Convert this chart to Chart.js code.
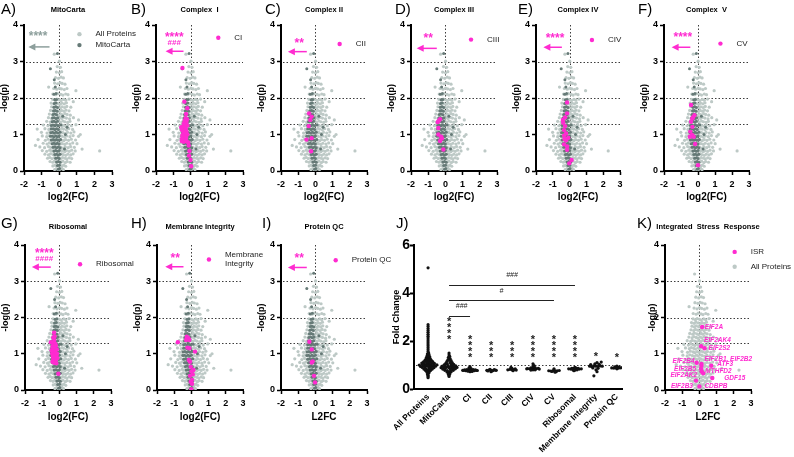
<!DOCTYPE html>
<html>
<head>
<meta charset="utf-8">
<title>Proteome volcano panels</title>
<script src="https://cdn.jsdelivr.net/npm/chart.js@4.4.1/dist/chart.umd.min.js"></script>
<style>
  body { margin: 0; width: 794px; height: 457px; position: relative; overflow: hidden; background: #fff; }
  canvas { position: absolute; }
</style>
</head>
<body>
<script>
const FONT = '"Liberation Sans", Arial, sans-serif'
const PINK = '#ff2bd0'
const LIGHT = '#bdc9c6'
const DARK = '#667a77'
const STAR_GRAY = '#8d9f9c'

// ---- volcano data, [log2 fold change, -log10 p] ----
const allProteins = [
  [-0.26,0.04],[-0.14,0.06],[-0.05,0.03],[0.06,0.05],[0.15,0.07],[0.24,0.04],
  [-0.36,0.14],[-0.24,0.16],[-0.16,0.13],[-0.04,0.15],[0.05,0.17],[0.16,0.14],[0.26,0.16],[0.37,0.13],
  [-0.52,0.26],[-0.37,0.24],[-0.27,0.27],[-0.13,0.23],[-0.03,0.26],[0.11,0.25],[0.21,0.27],[0.35,0.23],[0.45,0.26],[0.62,0.24],
  [-0.66,0.35],[-0.53,0.37],[-0.41,0.34],[-0.27,0.36],[-0.17,0.33],[-0.03,0.36],[0.09,0.34],[0.19,0.37],[0.33,0.35],[0.43,0.33],[0.57,0.36],[0.71,0.34],
  [-0.81,0.46],[-0.61,0.44],[-0.49,0.47],[-0.35,0.45],[-0.25,0.43],[-0.11,0.46],[0.01,0.44],[0.13,0.47],[0.23,0.45],[0.37,0.43],[0.49,0.46],[0.65,0.44],[0.79,0.47],
  [-0.96,0.56],[-0.71,0.54],[-0.54,0.57],[-0.43,0.55],[-0.29,0.53],[-0.19,0.56],[-0.05,0.54],[0.07,0.57],[0.17,0.55],[0.31,0.53],[0.41,0.56],[0.57,0.54],[0.71,0.57],[0.91,0.55],[2.3,0.55],
  [-1.1,0.66],[-0.83,0.64],[-0.61,0.67],[-0.49,0.65],[-0.35,0.63],[-0.25,0.66],[-0.11,0.64],[0.01,0.67],[0.11,0.65],[0.25,0.63],[0.35,0.66],[0.51,0.64],[0.65,0.67],[0.86,0.65],
  [-0.91,0.76],[-0.69,0.74],[-0.56,0.77],[-0.41,0.75],[-0.31,0.73],[-0.17,0.76],[-0.07,0.74],[0.07,0.77],[0.17,0.75],[0.31,0.73],[0.43,0.76],[0.61,0.74],[0.77,0.77],[1.01,0.75],
  [-1.2,0.86],[-0.79,0.84],[-0.63,0.87],[-0.47,0.85],[-0.37,0.83],[-0.23,0.86],[-0.13,0.84],[0.01,0.87],[0.11,0.85],[0.25,0.83],[0.37,0.86],[0.53,0.84],[0.69,0.87],[0.93,0.85],
  [-0.96,0.96],[-0.71,0.94],[-0.56,0.97],[-0.41,0.95],[-0.31,0.93],[-0.17,0.96],[-0.07,0.94],[0.07,0.97],[0.17,0.95],[0.31,0.93],[0.43,0.96],[0.61,0.94],[0.79,0.97],[1.1,0.95],
  [-1.01,1.06],[-0.69,1.04],[-0.53,1.07],[-0.37,1.05],[-0.27,1.03],[-0.13,1.06],[-0.03,1.04],[0.11,1.07],[0.21,1.05],[0.35,1.03],[0.47,1.06],[0.66,1.04],[0.84,1.07],
  [-0.81,1.16],[-0.59,1.14],[-0.47,1.17],[-0.33,1.15],[-0.23,1.13],[-0.09,1.16],[0.01,1.14],[0.15,1.17],[0.25,1.15],[0.41,1.13],[0.54,1.16],[0.76,1.14],
  [-0.9,1.26],[-0.64,1.24],[-0.51,1.27],[-0.37,1.25],[-0.27,1.23],[-0.13,1.26],[-0.03,1.24],[0.11,1.27],[0.21,1.25],[0.36,1.23],[0.49,1.26],[0.69,1.24],[0.95,1.27],
  [-0.71,1.36],[-0.51,1.34],[-0.41,1.37],[-0.27,1.35],[-0.17,1.33],[-0.03,1.36],[0.07,1.34],[0.21,1.37],[0.32,1.35],[0.48,1.33],[0.61,1.36],
  [-0.61,1.46],[-0.43,1.44],[-0.33,1.47],[-0.19,1.45],[-0.09,1.43],[0.05,1.46],[0.15,1.44],[0.29,1.47],[0.41,1.45],[0.59,1.43],[0.81,1.46],
  [-0.56,1.56],[-0.39,1.54],[-0.29,1.57],[-0.15,1.55],[-0.05,1.53],[0.09,1.56],[0.19,1.54],[0.33,1.57],[0.45,1.55],[0.63,1.53],
  [-0.49,1.66],[-0.33,1.64],[-0.23,1.67],[-0.09,1.65],[0.03,1.63],[0.13,1.66],[0.27,1.64],[0.39,1.67],[0.56,1.65],
  [-0.43,1.76],[-0.29,1.74],[-0.19,1.77],[-0.05,1.75],[0.07,1.73],[0.17,1.76],[0.31,1.74],[0.43,1.77],[0.66,1.75],
  [-0.46,1.86],[-0.31,1.84],[-0.21,1.87],[-0.07,1.85],[0.05,1.83],[0.15,1.86],[0.29,1.84],[0.41,1.87],
  [-0.37,1.96],[-0.23,1.94],[-0.13,1.97],[0.01,1.95],[0.11,1.93],[0.25,1.96],[0.37,1.94],[0.56,1.97],
  [-0.36,2.11],[-0.19,2.09],[-0.07,2.12],[0.09,2.1],[0.21,2.08],[0.37,2.11],[0.5,2.09],
  [-0.31,2.26],[-0.14,2.24],[0.01,2.27],[0.13,2.25],[0.29,2.23],[0.44,2.26],
  [-0.26,2.41],[-0.09,2.39],[0.05,2.42],[0.17,2.4],[0.33,2.38],
  [-0.21,2.56],[-0.04,2.54],[0.11,2.57],[0.24,2.55],
  [-0.16,2.71],[0.01,2.69],[0.14,2.72],
  [-0.11,2.86],[0.07,2.84],[0.01,3.01],
  [-0.28,3.2],[0.95,2.2],[1.1,1.4],[-1.35,0.7],[1.3,0.6],[0.8,1.9],[-0.6,2.3],[1.2,1.0],[-1.25,1.15]
]
const mitoCarta = [
  [-0.05,0.05],[0.02,0.07],[-0.1,0.15],[0.01,0.16],[-0.15,0.25],[-0.05,0.26],[0.05,0.24],
  [-0.2,0.35],[-0.1,0.36],[0,0.34],[-0.25,0.45],[-0.15,0.46],[-0.05,0.44],[0.05,0.46],
  [-0.3,0.55],[-0.2,0.56],[-0.1,0.54],[0,0.56],[-0.35,0.65],[-0.25,0.66],[-0.15,0.64],[-0.05,0.66],[0.05,0.64],
  [-0.4,0.75],[-0.3,0.76],[-0.2,0.74],[-0.1,0.76],[0,0.74],
  [-0.45,0.85],[-0.35,0.86],[-0.25,0.84],[-0.15,0.86],[-0.05,0.84],[0.08,0.86],
  [-0.5,0.95],[-0.4,0.96],[-0.3,0.94],[-0.2,0.96],[-0.1,0.94],[0,0.96],
  [-0.48,1.05],[-0.38,1.06],[-0.28,1.04],[-0.18,1.06],[-0.08,1.04],[0.05,1.06],
  [-0.45,1.15],[-0.35,1.16],[-0.25,1.14],[-0.15,1.16],[-0.05,1.14],
  [-0.45,1.25],[-0.35,1.26],[-0.25,1.24],[-0.15,1.26],[-0.05,1.24],[0.1,1.26],
  [-0.4,1.35],[-0.3,1.36],[-0.2,1.34],[-0.1,1.36],[-0.38,1.45],[-0.28,1.46],[-0.18,1.44],[-0.08,1.46],
  [-0.35,1.55],[-0.25,1.56],[-0.15,1.54],[-0.32,1.65],[-0.22,1.66],[-0.12,1.64],
  [-0.3,1.75],[-0.2,1.76],[-0.1,1.74],[-0.28,1.85],[-0.18,1.86],[-0.25,1.95],[-0.15,1.96],
  [-0.3,2.1],[-0.18,2.12],[-0.22,2.3],[-0.28,2.5],[-0.5,2.8],
  [0.35,1.0],[0.45,1.2],[0.3,0.6],[0.2,1.5],[-0.1,3.22]
]
const complexI = [
  [-0.48,2.82],[-0.37,1.9],[-0.2,1.72],[-0.27,1.56],[-0.3,1.45],[-0.22,1.42],[-0.35,1.38],[-0.25,1.35],[-0.4,1.3],[-0.3,1.28],
  [-0.2,1.25],[-0.45,1.22],[-0.35,1.2],[-0.28,1.15],[-0.5,1.12],[-0.38,1.1],[-0.25,1.08],[-0.42,1.05],[-0.32,1.02],[-0.2,1],
  [-0.48,0.98],[-0.36,0.95],[-0.27,0.92],[-0.45,0.88],[-0.33,0.85],[-0.52,0.82],[-0.4,0.8],[-0.25,0.82],[-0.15,0.78],[-0.12,0.7],
  [-0.08,0.55],[-0.1,0.42],[-0.02,0.3],[0.02,0.13],[-0.55,1.2],[-0.5,0.9]
]
const complexII = [[-0.37,1.58],[-0.22,1.49],[-0.3,1.4],[-0.39,1.23],[-0.52,0.86],[-0.22,0.9],[-0.25,0.54]]
const complexIII = [[-0.31,1.42],[-0.45,1.34],[-0.38,1.38],[-0.41,1.18],[-0.41,1],[-0.25,0.94],[-0.2,0.89],[-0.31,0.82],[-0.12,0.59]]
const complexIV = [
  [-0.15,1.88],[-0.15,1.58],[-0.27,1.47],[-0.38,1.32],[-0.27,1.23],[-0.33,1.12],[-0.21,1.03],[-0.33,0.97],[-0.08,0.91],
  [-0.21,0.84],[-0.33,0.73],[-0.15,0.67],[-0.15,0.58],[0.12,0.3],[-0.02,0.21],[-0.4,1.4],[-0.3,0.88]
]
const complexV = [[-0.41,1.81],[-0.21,1.53],[-0.3,1.47],[-0.33,1.44],[-0.41,1.35],[-0.33,1.21],[-0.45,1.08],[-0.35,0.99],[-0.48,0.94],[-0.25,0.94],[-0.17,0.74],[0,0.16]]
const ribosomal = [
  [-0.31,1.58],[-0.5,1.32],[-0.35,1.45],[-0.3,1.38],[-0.38,1.3],[-0.25,1.28],[-0.2,1.22],[-0.4,1.2],[-0.3,1.15],[-0.15,1.12],
  [-0.35,1.08],[-0.25,1.05],[-0.42,1],[-0.3,0.98],[-0.18,0.95],[-0.38,0.92],[-0.25,0.9],[-0.12,0.88],[-0.35,0.85],[-0.22,0.82],
  [-0.4,0.78],[-0.3,0.75],[-0.18,0.74],[-0.28,1.48],[-0.06,0.45],[-0.14,1],[-0.45,1.1]
]
const membraneIntegrity = [
  [-0.79,1.32],[-0.27,1.47],[-0.17,1.43],[-0.31,1.38],[-0.12,1.38],[-0.23,1.17],[-0.12,1.15],[0.21,1.06],[-0.15,0.83],[-0.08,0.78],
  [-0.04,0.64],[0.12,0.55],[0,0.51],[0.08,0.43],[-0.08,0.39],[0.04,0.28],[-0.04,0.23],[0.04,0.17],[0,0.02]
]
const proteinQC = [[-0.35,1.33],[-0.21,1.12],[-0.16,0.79],[-0.21,0.76],[-0.08,0.39],[-0.02,0.21]]
const isr = [
  [0.16,1.74],[0.1,1.21],[0.3,1.15],[-0.16,0.75],[0.12,0.72],[0.12,0.67],[0.69,0.67],
  [0.1,0.58],[0.14,0.51],[0.22,0.46],[0.75,0.33],[-0.2,0.26],[0,0.1]
]
const isrGenes = ['EIF2A','EIF2AK4','EIF2S2','EIF2B4','EIF2B1','EIF2B2','ATF3','EIF2B5','MTHFD2','EIF2AK2','GDF15','EIF2B3','CDBPB']
const volcanoTicksX = [-2, -1, 0, 1, 2, 3]
const volcanoTicksY = [0, 1, 2, 3, 4]
const cutoffs = [1.3, 2, 3]

// ---- fold change panel, [jitter, fold change] per category ----
const foldCategories = ['All Proteins','MitoCarta','CI','CII','CIII','CIV','CV','Ribosomal','Membrane Integrity','Protein QC']
const foldAll = [
  [0,5.05],[0,2.68],[0,2.6],[0,2.52],[0,2.44],[0,2.36],[0,2.28],[0,2.2],[0,2.12],[0,2.04],[0,1.96],[0,1.88],[0,1.8],[0,1.72],[0,1.64],[0,1.56],
  [0.03,1.5],[-0.03,1.46],[0.05,1.42],[-0.05,1.38],[0.08,1.34],[-0.08,1.31],[0,1.35],
  [0.1,1.27],[-0.1,1.25],[0,1.26],[0.15,1.2],[-0.15,1.19],[0.05,1.2],[-0.05,1.21],[0.22,1.14],[-0.22,1.13],[0.1,1.14],[-0.1,1.15],[0,1.12],
  [0.3,1.07],[-0.3,1.08],[0.18,1.08],[-0.18,1.06],[0.06,1.07],[-0.06,1.08],[0.42,1.01],[-0.42,1],[0.28,1],[-0.28,1.02],[0.16,1.01],[-0.16,1],[0.05,1],[-0.05,1.01],
  [0.36,0.95],[-0.36,0.94],[0.22,0.95],[-0.22,0.96],[0.1,0.94],[-0.1,0.95],[0,0.95],[0.28,0.89],[-0.28,0.9],[0.15,0.89],[-0.15,0.88],[0.04,0.88],
  [0.2,0.83],[-0.2,0.83],[0.08,0.83],[-0.08,0.82],[0.12,0.77],[-0.12,0.77],[0,0.78],[0.06,0.72],[-0.06,0.71],[0.03,0.66],[-0.03,0.62],[0,0.57],[0,0.52],[0,0.47]
]
const foldMito = [
  [0,1.5],[0,1.42],[0.03,1.36],[-0.03,1.32],[0.05,1.27],[-0.05,1.23],[0.1,1.18],[-0.1,1.15],[0,1.2],[0.15,1.1],[-0.15,1.08],[0.05,1.1],
  [0.22,1.03],[-0.22,1.02],[0.1,1.02],[-0.08,1.04],[0.32,0.96],[-0.32,0.95],[0.2,0.96],[-0.2,0.97],[0.08,0.95],[-0.05,0.96],
  [0.38,0.9],[-0.38,0.89],[0.26,0.9],[-0.26,0.88],[0.14,0.9],[-0.12,0.91],[0,0.89],[0.3,0.84],[-0.3,0.83],[0.18,0.84],[-0.18,0.85],[0.06,0.84],
  [0.2,0.78],[-0.2,0.78],[0.08,0.78],[-0.08,0.77],[0.1,0.72],[-0.1,0.71],[0,0.7],[0.04,0.64],[-0.04,0.62],[0,0.57],[0,0.52]
]
const foldCI = [[-0.3,0.78],[-0.2,0.76],[-0.1,0.77],[0,0.78],[0.1,0.77],[0.2,0.76],[0.3,0.78],[-0.25,0.8],[-0.15,0.81],[-0.05,0.82],[0.05,0.8],[0.15,0.81],[0.25,0.8],[-0.1,0.74],[0.1,0.73],[0,0.72],[0.05,0.85],[-0.05,0.88],[0,0.93],[0.35,0.77],[-0.35,0.78]]
const foldCII = [[-0.2,0.78],[-0.1,0.79],[0,0.78],[0.1,0.77],[0.2,0.79],[-0.05,0.82],[0.05,0.75],[0,0.72],[0.15,0.81],[-0.15,0.75],[0.25,0.78]]
const foldCIII = [[-0.2,0.8],[-0.1,0.82],[0,0.8],[0.1,0.81],[0.2,0.79],[0,0.86],[0.05,0.76],[-0.05,0.9],[0.15,0.84]]
const foldCIV = [[-0.25,0.85],[-0.15,0.84],[-0.05,0.86],[0.05,0.85],[0.15,0.84],[0.25,0.86],[-0.1,0.88],[0.1,0.89],[0,0.92],[0,0.8],[-0.1,0.79],[0.1,0.8],[0.05,0.98],[0,1.05],[0.3,0.83],[-0.3,0.84]]
const foldCV = [[-0.25,0.76],[-0.15,0.75],[-0.05,0.76],[0.05,0.75],[0.15,0.76],[0.25,0.77],[-0.1,0.73],[0.1,0.72],[0,0.8],[0.05,0.7],[0,0.84]]
const foldRibo = [[-0.3,0.84],[-0.2,0.83],[-0.1,0.84],[0,0.83],[0.1,0.84],[0.2,0.83],[0.3,0.84],[-0.15,0.86],[-0.05,0.87],[0.05,0.87],[0.15,0.86],[-0.1,0.8],[0,0.79],[0.1,0.8],[0,0.9],[-0.05,0.76]]
const foldMembrane = [[-0.3,0.95],[-0.2,0.93],[-0.1,0.96],[0,0.95],[0.1,0.94],[0.2,0.96],[0.3,0.95],[-0.25,1.02],[-0.05,1.05],[0.15,1.03],[0.05,1.1],[-0.15,0.88],[0.1,0.86],[0,0.8],[0.25,1.12],[-0.1,0.55],[0.05,0.72]]
const foldQC = [[-0.25,0.88],[-0.15,0.87],[-0.05,0.88],[0.05,0.87],[0.15,0.88],[0.25,0.89],[-0.1,0.92],[0.1,0.91],[0,0.84],[0,0.95]]
const foldStars = ['', '****', '****', '***', '***', '****', '****', '****', '*', '*']
const foldTicks = [0, 2, 4, 6]

Chart.defaults.font.family = FONT

const ROWS = [
  { top: 0, h: 203, plotTop: 25, plotBottom: 171, titleY: 10, letterY: 10 },
  { top: 214, h: 209, plotTop: 245, plotBottom: 390, titleY: 227, letterY: 224 }
]

function makeCanvas(left, top, w, h) {
  const c = document.createElement('canvas')
  c.width = w; c.height = h
  c.style.left = left + 'px'; c.style.top = top + 'px'
  c.style.width = w + 'px'; c.style.height = h + 'px'
  document.body.appendChild(c)
  return c
}

function pts(arr) { return arr.map(p => ({ x: p[0], y: p[1] })) }

function scatterSet(arr, color, r, order) {
  return { data: pts(arr), pointRadius: r, pointBackgroundColor: color, pointBorderWidth: 0, pointHoverRadius: 0, order }
}

const axisLine = { display: true, color: '#000', width: 2 }
const tickGrid = { drawOnChartArea: false, tickLength: 4, tickColor: '#000', tickWidth: 1.5 }

function xAxis(title, height, ticks) {
  return {
    type: 'linear', min: ticks[0], max: ticks[ticks.length - 1],
    afterBuildTicks: s => { s.ticks = ticks.map(v => ({ value: v })) },
    afterFit: s => { s.height = height },
    border: axisLine, grid: tickGrid,
    ticks: { color: '#000', font: { size: 9, weight: 'bold' }, padding: 4, maxRotation: 0, autoSkip: false },
    title: { display: true, text: title, color: '#000', font: { size: 10, weight: 'bold' }, padding: 0 }
  }
}

function yAxis(title, ticks, pad) {
  return {
    type: 'linear', min: ticks[0], max: ticks[ticks.length - 1],
    afterBuildTicks: s => { s.ticks = ticks.map(v => ({ value: v })) },
    afterFit: s => { s.width = 30 },
    border: axisLine, grid: tickGrid,
    ticks: { color: '#000', font: { size: 9, weight: 'bold' }, padding: 2 },
    title: { display: true, text: title, color: '#000', font: { size: 9, weight: 'bold' }, padding: { top: pad, bottom: 0 } }
  }
}

function volcanoDecor(p, left, row) {
  return {
    id: 'volcanoDecor',
    beforeDatasetsDraw(chart) {
      const { ctx, chartArea: a, scales: { x, y } } = chart
      ctx.save()
      ctx.strokeStyle = '#3c3c3c'; ctx.lineWidth = 1; ctx.setLineDash([1.5, 2])
      ctx.beginPath()
      cutoffs.forEach(v => {
        const yy = Math.round(y.getPixelForValue(v)) + 0.5
        ctx.moveTo(a.left + 2, yy); ctx.lineTo(a.right, yy)
      })
      const xx = Math.round(x.getPixelForValue(0)) + 0.5
      ctx.moveTo(xx, a.top); ctx.lineTo(xx, a.bottom - 1)
      ctx.stroke()
      ctx.restore()
    },
    afterDatasetsDraw(chart) {
      const { ctx, scales: { x, y } } = chart
      ctx.save()
      ctx.textBaseline = 'middle'
      p.legend.forEach(e => {
        const px = x.getPixelForValue(e.x), py = y.getPixelForValue(e.y)
        ctx.fillStyle = e.color
        ctx.beginPath(); ctx.arc(px, py, 2.2, 0, Math.PI * 2); ctx.fill()
        ctx.fillStyle = '#222'; ctx.font = '8px ' + FONT; ctx.textAlign = 'left'
        const lines = e.label.split('\n')
        lines.forEach((t, i) => ctx.fillText(t, px + 16, py + (i - (lines.length - 1) / 2) * 9))
      })
      ctx.fillStyle = p.markColor; ctx.strokeStyle = p.markColor
      ctx.textAlign = 'center'
      p.marks.forEach(m => {
        const star = m.text[0] === '*'
        ctx.font = 'bold ' + (star ? 12 : 8) + 'px ' + FONT
        ctx.fillText(m.text, x.getPixelForValue(m.x), y.getPixelForValue(m.y) + (star ? 2.5 : 0))
      })
      if (p.arrow) {
        const ay = y.getPixelForValue(p.arrow.y)
        const x1 = x.getPixelForValue(p.arrow.from), x2 = x.getPixelForValue(p.arrow.to)
        ctx.lineWidth = 1.5
        ctx.beginPath(); ctx.moveTo(x1, ay); ctx.lineTo(x2 + 5, ay); ctx.stroke()
        ctx.beginPath(); ctx.moveTo(x2, ay); ctx.lineTo(x2 + 7, ay - 3.5); ctx.lineTo(x2 + 7, ay + 3.5); ctx.closePath(); ctx.fill()
      }
      if (p.geneLabels) {
        ctx.fillStyle = PINK
        ctx.font = 'italic bold 6.5px ' + FONT
        p.geneLabels.forEach(g => {
          const pt = isr[g.i]
          ctx.textAlign = g.dx < 0 ? 'right' : 'left'
          ctx.fillText(g.text || isrGenes[g.i], x.getPixelForValue(pt[0]) + g.dx, y.getPixelForValue(pt[1]) + g.dy)
        })
      }
      ctx.restore()
    },
    afterDraw(chart) {
      const { ctx, chartArea: a } = chart
      ctx.save()
      ctx.fillStyle = '#000'; ctx.textBaseline = 'middle'
      ctx.font = '15px ' + FONT; ctx.textAlign = 'left'
      ctx.fillText(p.letter, p.lx - left, row.letterY - row.top)
      ctx.font = 'bold ' + (p.titleSize || 7.5) + 'px ' + FONT; ctx.textAlign = 'center'
      ctx.fillText(p.title, (a.left + a.right) / 2, row.titleY - row.top)
      ctx.restore()
    }
  }
}

function volcano(p) {
  const row = ROWS[p.row]
  const left = p.ax - 30
  const right = p.canvasRight || p.ar + 34
  const cv = makeCanvas(left, row.top, right - left, row.h)
  const sets = [scatterSet(allProteins, LIGHT, 1.6, 3)]
  if (p.dark) sets.push(scatterSet(mitoCarta, DARK, 1.5, 2))
  if (p.pink) sets.push(scatterSet(p.pink, PINK, 2.2, 1))
  new Chart(cv, {
    type: 'scatter',
    data: { datasets: sets },
    options: {
      responsive: false, animation: false, events: [],
      layout: { padding: { left: 0, top: row.plotTop - row.top, right: right - p.ar, bottom: 0 } },
      plugins: { legend: { display: false }, tooltip: { enabled: false } },
      scales: {
        x: xAxis(p.xTitle || 'log2(FC)', row.top + row.h - row.plotBottom, volcanoTicksX),
        y: yAxis('-log(p)', volcanoTicksY, p.yPad === undefined ? 5.6 : p.yPad)
      }
    },
    plugins: [volcanoDecor(p, left, row)]
  })
}

const pinkMarks = (stars, sx, sy, hash, hy) => {
  const m = [{ text: stars, x: sx, y: sy }]
  if (hash) m.push({ text: hash, x: sx, y: hy })
  return m
}

const panels = [
  { letter: 'A)', lx: 1, title: 'MitoCarta', row: 0, ax: 24, ar: 112, dark: true, markColor: STAR_GRAY,
    legend: [{ label: 'All Proteins', color: LIGHT, x: 1.15, y: 3.75 }, { label: 'MitoCarta', color: DARK, x: 1.15, y: 3.45 }],
    marks: [{ text: '****', x: -1.2, y: 3.75 }], arrow: { from: -0.55, to: -1.75, y: 3.4 } },
  { letter: 'B)', lx: 131, title: 'Complex  I', row: 0, ax: 156, ar: 243, dark: true, pink: complexI, markColor: PINK,
    legend: [{ label: 'CI', color: PINK, x: 1.58, y: 3.65 }],
    marks: pinkMarks('****', -0.95, 3.72, '###', 3.5), arrow: { from: -0.42, to: -1.45, y: 3.28 } },
  { letter: 'C)', lx: 265, title: 'Complex II', row: 0, ax: 281, ar: 367, dark: true, pink: complexII, markColor: PINK,
    legend: [{ label: 'CII', color: PINK, x: 1.41, y: 3.48 }],
    marks: pinkMarks('**', -0.94, 3.56), arrow: { from: -0.5, to: -1.6, y: 3.27 } },
  { letter: 'D)', lx: 395, title: 'Complex III', row: 0, ax: 411, ar: 497, dark: true, pink: complexIII, markColor: PINK,
    legend: [{ label: 'CIII', color: PINK, x: 1.49, y: 3.6 }],
    marks: pinkMarks('**', -1, 3.68), arrow: { from: -0.5, to: -1.67, y: 3.36 } },
  { letter: 'E)', lx: 518, title: 'Complex IV', row: 0, ax: 536, ar: 620, dark: true, pink: complexIV, markColor: PINK,
    legend: [{ label: 'CIV', color: PINK, x: 1.33, y: 3.59 }],
    marks: pinkMarks('****', -0.87, 3.68), arrow: { from: -0.46, to: -1.56, y: 3.39 } },
  { letter: 'F)', lx: 638, title: 'Complex  V', row: 0, ax: 664, ar: 749, dark: true, pink: complexV, markColor: PINK,
    legend: [{ label: 'CV', color: PINK, x: 1.32, y: 3.49 }],
    marks: pinkMarks('****', -0.89, 3.71), arrow: { from: -0.45, to: -1.55, y: 3.39 } },
  { letter: 'G)', lx: 1, title: 'Ribosomal', row: 1, ax: 25, ar: 111, dark: true, pink: ribosomal, markColor: PINK,
    legend: [{ label: 'Ribosomal', color: PINK, x: 1.2, y: 3.47 }],
    marks: pinkMarks('****', -0.88, 3.84, '####', 3.62), arrow: { from: -0.5, to: -1.6, y: 3.39 } },
  { letter: 'H)', lx: 131, title: 'Membrane Integrity', row: 1, ax: 157, ar: 243, dark: true, pink: membraneIntegrity, markColor: PINK,
    legend: [{ label: 'Membrane\nIntegrity', color: PINK, x: 1.02, y: 3.6 }],
    marks: pinkMarks('**', -0.94, 3.7), arrow: { from: -0.46, to: -1.52, y: 3.4 } },
  { letter: 'I)', lx: 262, title: 'Protein QC', row: 1, ax: 281, ar: 367, dark: true, pink: proteinQC, markColor: PINK, xTitle: 'L2FC',
    legend: [{ label: 'Protein QC', color: PINK, x: 1.18, y: 3.58 }],
    marks: pinkMarks('**', -0.94, 3.68), arrow: { from: -0.5, to: -1.6, y: 3.38 } },
  { letter: 'K)', lx: 637, title: 'Integrated  Stress  Response', titleSize: 7.5, row: 1, ax: 665, ar: 751, canvasRight: 794, yPad: 12, dark: false, pink: isr, markColor: PINK, xTitle: 'L2FC',
    legend: [{ label: 'ISR', color: PINK, x: 2.05, y: 3.81 }, { label: 'All Proteins', color: LIGHT, x: 2.05, y: 3.4 }],
    marks: [],
    geneLabels: [
      { i: 0, dx: 2.5, dy: 0 }, { i: 1, dx: 3, dy: -6 }, { i: 2, dx: 4, dy: 0 }, { i: 3, dx: -2, dy: -2 },
      { i: 4, dx: 3, dy: -5, text: 'EIF2B1, EIF2B2' }, { i: 6, dx: 6, dy: -2 }, { i: 7, dx: -5, dy: 0 },
      { i: 8, dx: 3.5, dy: 0 }, { i: 9, dx: -6, dy: 2 }, { i: 10, dx: 12, dy: 0 }, { i: 11, dx: -3, dy: 6 }, { i: 12, dx: 5, dy: 0 }
    ] }
]

panels.forEach(volcano)

// ---- J) fold change per category ----
const foldSets = [foldAll, foldMito, foldCI, foldCII, foldCIII, foldCIV, foldCV, foldRibo, foldMembrane, foldQC]
const starBase = [0, 2.15, 1.42, 1.42, 1.42, 1.42, 1.42, 1.42, 1.45, 1.4]
const brackets = [
  { from: 1, to: 2, y: 3.06, text: '###', tx: 1.6, ty: 3.44 },
  { from: 1, to: 6, y: 3.7, text: '#', tx: 3.5, ty: 4.09 },
  { from: 1, to: 7, y: 4.33, text: '###', tx: 4.0, ty: 4.73 }
]

const foldDecor = {
  id: 'foldDecor',
  beforeDatasetsDraw(chart) {
    const { ctx, chartArea: a, scales: { y } } = chart
    ctx.save()
    ctx.strokeStyle = '#3c3c3c'; ctx.lineWidth = 1; ctx.setLineDash([1.5, 2])
    const yy = Math.round(y.getPixelForValue(1)) + 0.5
    ctx.beginPath(); ctx.moveTo(a.left + 2, yy); ctx.lineTo(a.right, yy); ctx.stroke()
    ctx.restore()
  },
  afterDatasetsDraw(chart) {
    const { ctx, scales: { x, y } } = chart
    ctx.save()
    ctx.fillStyle = '#222'; ctx.strokeStyle = '#222'; ctx.lineWidth = 1
    ctx.textAlign = 'center'; ctx.textBaseline = 'middle'
    brackets.forEach(b => {
      const by = Math.round(y.getPixelForValue(b.y)) + 0.5
      ctx.beginPath(); ctx.moveTo(x.getPixelForValue(b.from), by); ctx.lineTo(x.getPixelForValue(b.to), by); ctx.stroke()
      ctx.font = 'italic 7px ' + FONT
      ctx.fillText(b.text, x.getPixelForValue(b.tx), y.getPixelForValue(b.ty))
    })
    ctx.font = 'bold 11px ' + FONT
    foldStars.forEach((s, i) => {
      for (let k = 0; k < s.length; k++) {
        ctx.fillText('*', x.getPixelForValue(i), y.getPixelForValue(starBase[i]) - k * 6 + 3)
      }
    })
    ctx.restore()
  },
  afterDraw(chart) {
    const ctx = chart.ctx
    ctx.save()
    ctx.fillStyle = '#000'; ctx.textBaseline = 'middle'; ctx.textAlign = 'left'
    ctx.font = '15px ' + FONT
    ctx.fillText('J)', 396 - 383, 224 - 214)
    ctx.restore()
  }
}

;(function () {
  const left = 383, top = 214, w = 249, h = 243, plotLeft = 414, plotRight = 622, plotTop = 245, plotBottom = 389
  const cv = makeCanvas(left, top, w, h)
  const sets = foldSets.map((arr, i) => ({
    data: arr.map(p => ({ x: i + p[0], y: p[1] })),
    pointRadius: 1.6, pointBackgroundColor: '#111', pointBorderWidth: 0, pointHoverRadius: 0
  }))
  new Chart(cv, {
    type: 'scatter',
    data: { datasets: sets },
    options: {
      responsive: false, animation: false, events: [],
      layout: { padding: { left: 0, top: plotTop - top, right: left + w - plotRight, bottom: 0 } },
      plugins: { legend: { display: false }, tooltip: { enabled: false } },
      scales: {
        x: {
          type: 'linear', min: -0.67, max: 9.24,
          afterBuildTicks: s => { s.ticks = foldCategories.map((c, i) => ({ value: i })) },
          afterFit: s => { s.height = top + h - plotBottom },
          border: axisLine, grid: { display: false, drawTicks: false },
          ticks: { autoSkip: false, minRotation: 45, maxRotation: 45, color: '#000', font: { size: 8.5, weight: 'bold' }, padding: 3,
                   callback: (v, i) => foldCategories[i] }
        },
        y: {
          type: 'linear', min: 0, max: 6,
          afterBuildTicks: s => { s.ticks = foldTicks.map(v => ({ value: v })) },
          afterFit: s => { s.width = plotLeft - left },
          border: axisLine, grid: { drawOnChartArea: false, tickLength: 4, tickColor: '#000', tickWidth: 2 },
          ticks: { color: '#000', font: { size: 14, weight: 'bold' }, padding: 0 },
          title: { display: true, text: 'Fold Change', color: '#000', font: { size: 9, weight: 'bold' }, padding: { top: 8.5, bottom: 0 } }
        }
      }
    },
    plugins: [foldDecor]
  })
})()
</script>
</body>
</html>
